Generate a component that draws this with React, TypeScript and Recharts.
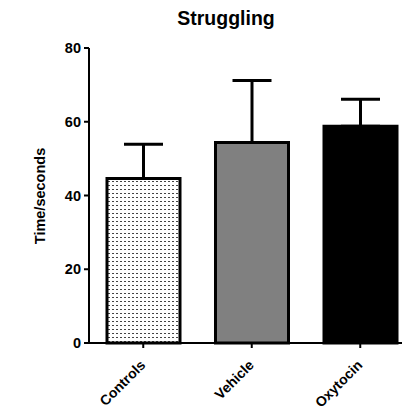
import React from 'react';
import { BarChart, Bar, XAxis, YAxis, ErrorBar, Cell } from 'recharts';

const categories = ['Controls', 'Vehicle', 'Oxytocin'];
const means = [44.6, 54.4, 58.8];
const errUp = [9.3, 16.8, 7.3];
const yTicks = [0, 20, 40, 60, 80];
const fills = ['url(#dots)', '#808080', '#000000'];

const data = categories.map((name, i) => ({ name, mean: means[i], err: [0, errUp[i]] }));

const FONT = '"Liberation Sans", Arial, sans-serif';

const XTick = (props: any) => {
  const { x, y, payload } = props;
  return (
    <g transform={`translate(${x},${y})`}>
      <text
        transform="translate(3,16) rotate(-45)"
        textAnchor="end"
        fontFamily={FONT}
        fontWeight="bold"
        fontSize={14}
        fill="#000"
      >
        {payload.value}
      </text>
    </g>
  );
};

export default function App() {
  return (
    <div style={{ position: 'relative', width: 402, height: 402, overflow: 'hidden' }}>
      <BarChart
        width={420}
        height={402}
        data={data}
        margin={{ top: 40, right: 13.5, bottom: 7, left: 0 }}
      >
        <defs>
          <pattern id="dots" width="4" height="4" patternUnits="userSpaceOnUse">
            <rect width="4" height="4" fill="#ffffff" />
            <rect x="0" y="1" width="2" height="1" fill="#444444" />
          </pattern>
        </defs>
        <XAxis
          dataKey="name"
          height={60}
          tickSize={5}
          tickMargin={2}
          axisLine={{ stroke: '#000', strokeWidth: 2 }}
          tickLine={{ stroke: '#000', strokeWidth: 2 }}
          tick={<XTick />}
          interval={0}
        />
        <YAxis
          width={81}
          domain={[0, 80]}
          ticks={yTicks}
          tickSize={5}
          tickMargin={3}
          axisLine={{ stroke: '#000', strokeWidth: 2 }}
          tickLine={{ stroke: '#000', strokeWidth: 2 }}
          tick={{ fill: '#000', fontSize: 14.5, fontWeight: 'bold', fontFamily: FONT }}
        />
        <Bar dataKey="mean" barSize={73} stroke="#000" strokeWidth={3} isAnimationActive={false}>
          {data.map((d, i) => (
            <Cell key={d.name} fill={fills[i]} />
          ))}
          <ErrorBar dataKey="err" width={19.5} stroke="#000" strokeWidth={3} direction="y" isAnimationActive={false} />
        </Bar>
      </BarChart>
      <svg
        width={402}
        height={402}
        style={{ position: 'absolute', left: 0, top: 0, pointerEvents: 'none' }}
      >
        <text x={218} y={17} textAnchor="middle" fontFamily={FONT} fontWeight="bold" fontSize={19.5} fill="#000">
          Struggling
        </text>
        <text
          transform="translate(37,188) rotate(-90)"
          textAnchor="middle"
          fontFamily={FONT}
          fontWeight="bold"
          fontSize={14.5}
          fill="#000"
        >
          Time/seconds
        </text>
      </svg>
    </div>
  );
}
